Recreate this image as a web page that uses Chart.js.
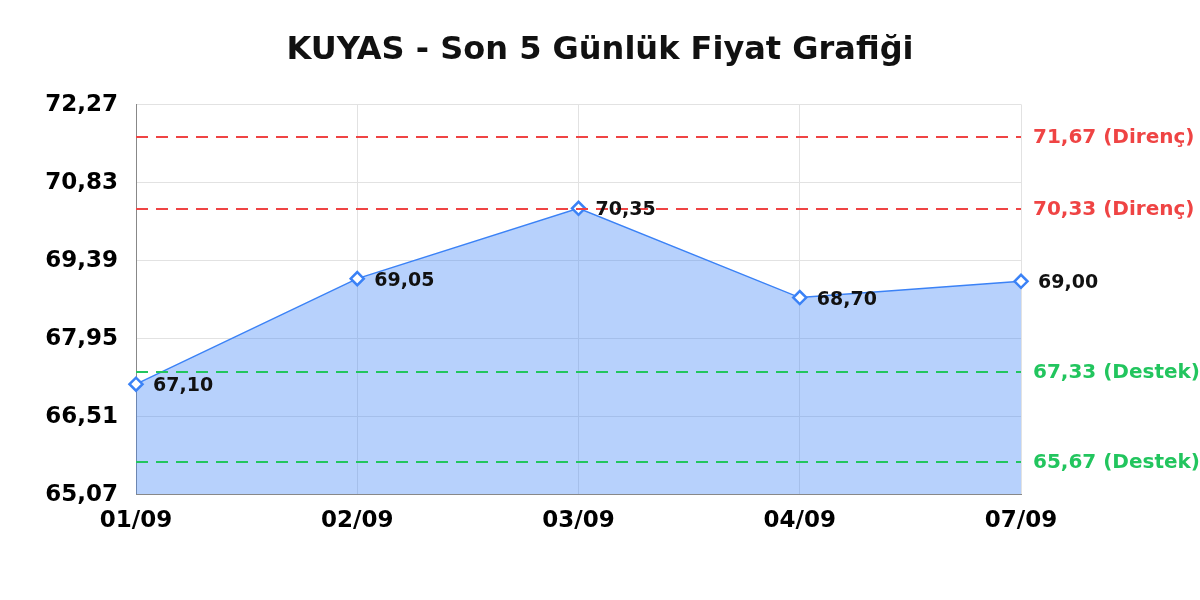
<!DOCTYPE html>
<html>
<head>
<meta charset="utf-8">
<script src="https://cdn.jsdelivr.net/npm/chart.js@4.4.1/dist/chart.umd.min.js"></script>
<style>
  body { margin: 0; background: #fff; }
</style>
</head>
<body>
<canvas id="priceChart" width="1200" height="600"></canvas>
<script>
const days = ['01/09', '02/09', '03/09', '04/09', '07/09'];
const prices = [67.10, 69.05, 70.35, 68.70, 69.00];
const yTicks = [65.07, 66.51, 67.95, 69.39, 70.83, 72.27];
const resistance = [71.67, 70.33];
const support = [67.33, 65.67];

Chart.defaults.font.family = "'DejaVu Sans', sans-serif";
Chart.defaults.color = '#000';

const fmt = v => v.toFixed(2).replace('.', ',');

// dashed support / resistance lines with labels on the right
const levelLines = {
    id: 'levelLines',
    afterDatasetsDraw(chart) {
        const ctx = chart.ctx;
        const area = chart.chartArea;
        const y = chart.scales.y;
        const draw = (val, color, word) => {
            const py = Math.round(y.getPixelForValue(val));
            ctx.save();
            ctx.strokeStyle = color;
            ctx.lineWidth = 2;
            ctx.setLineDash([12, 8]);
            ctx.beginPath();
            ctx.moveTo(area.left, py);
            ctx.lineTo(area.right, py);
            ctx.stroke();
            ctx.setLineDash([]);
            ctx.fillStyle = color;
            ctx.font = "bold 20px 'DejaVu Sans'";
            ctx.textBaseline = 'middle';
            ctx.fillText(fmt(val) + ' (' + word + ')', area.right + 12, py + 1);
            ctx.restore();
        };
        resistance.forEach(v => draw(v, '#ef4444', 'Direnç'));
        support.forEach(v => draw(v, '#22c55e', 'Destek'));
    }
};

const pointLabels = {
    id: 'pointLabels',
    afterDatasetsDraw(chart) {
        const ctx = chart.ctx;
        const meta = chart.getDatasetMeta(0);
        ctx.save();
        ctx.fillStyle = '#111';
        ctx.font = "bold 19px 'DejaVu Sans'";
        ctx.textBaseline = 'middle';
        meta.data.forEach((pt, i) => {
            ctx.fillText(fmt(prices[i]), pt.x + 17, pt.y + 2);
        });
        ctx.restore();
    }
};

const ctx = document.getElementById('priceChart').getContext('2d');
const priceChart = new Chart(ctx, {
    type: 'line',
    data: {
        labels: days,
        datasets: [{
            data: prices,
            borderColor: '#3b82f6',
            borderWidth: 1.5,
            backgroundColor: 'rgba(59, 130, 246, 0.37)',
            fill: 'start',
            tension: 0,
            pointStyle: 'rectRot',
            pointRadius: 6.5,
            pointBorderWidth: 2.5,
            pointBackgroundColor: '#fff',
            pointBorderColor: '#3b82f6'
        }]
    },
    options: {
        responsive: false,
        devicePixelRatio: 1,
        animation: false,
        scales: {
            x: {
                offset: false,
                grid: { color: '#e2e2e2', drawTicks: false },
                border: { color: '#888' },
                ticks: { padding: 13, font: { size: 23, weight: 'bold' }, maxRotation: 0 },
                afterFit: s => { s.height = 106; }
            },
            y: {
                min: yTicks[0],
                max: yTicks[yTicks.length - 1],
                afterBuildTicks: s => { s.ticks = yTicks.map(v => ({ value: v })); },
                grid: { color: '#e2e2e2', drawTicks: false },
                border: { color: '#888' },
                ticks: {
                    padding: 18,
                    labelOffset: 1,
                    font: { size: 23, weight: 'bold' },
                    callback: v => fmt(v)
                },
                afterFit: s => { s.width = 136; }
            },
            // empty right axis, only keeps room for the level labels
            yRight: {
                position: 'right',
                min: yTicks[0],
                max: yTicks[yTicks.length - 1],
                grid: { display: false, drawTicks: false },
                border: { display: false },
                ticks: { display: false },
                afterFit: s => { s.width = 179; }
            }
        },
        plugins: {
            legend: { display: false },
            tooltip: { enabled: false },
            title: {
                display: true,
                text: 'KUYAS - Son 5 Günlük Fiyat Grafiği',
                color: '#111',
                font: { size: 32, weight: 'bold' },
                padding: { top: 31, bottom: 35 }
            }
        }
    },
    plugins: [levelLines, pointLabels]
});
</script>
</body>
</html>
